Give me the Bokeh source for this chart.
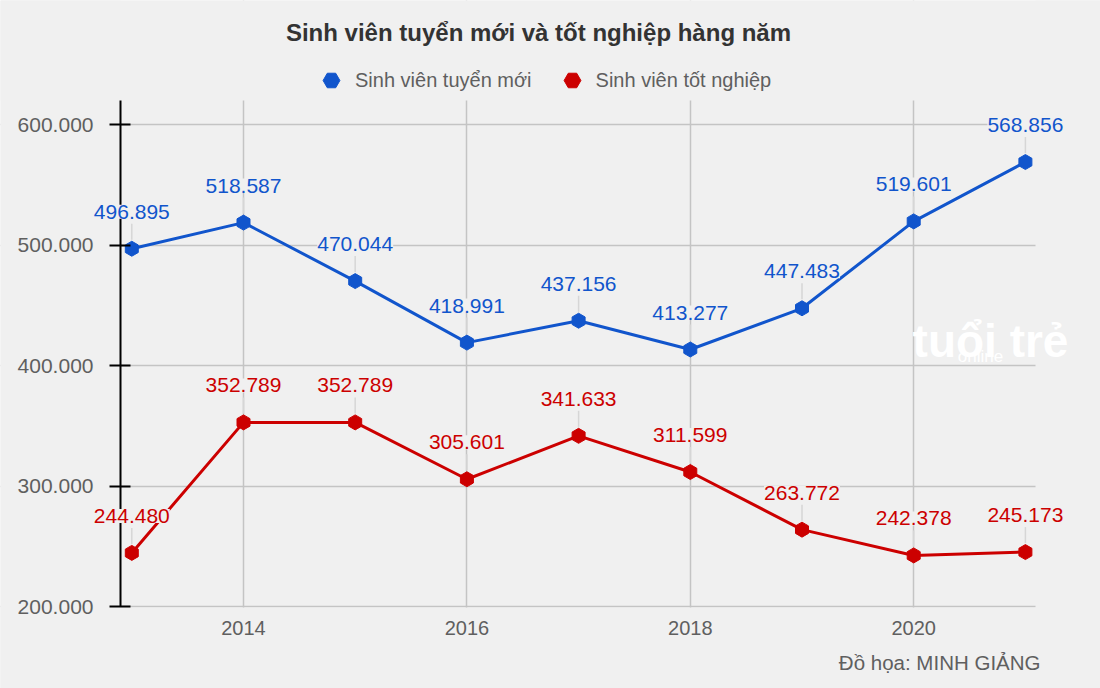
import math
from bokeh.plotting import figure
from bokeh.models import (ColumnDataSource, Range1d, FixedTicker, LabelSet, Legend,
                          LegendItem, Label, BoxAnnotation)
from bokeh.core.properties import value
from bokeh.embed import file_html
from bokeh.resources import INLINE

# ---- data ----
years = [2013, 2014, 2015, 2016, 2017, 2018, 2019, 2020, 2021]
new_students = [496895, 518587, 470044, 418991, 437156, 413277, 447483, 519601, 568856]
graduates = [244480, 352789, 352789, 305601, 341633, 311599, 263772, 242378, 245173]
series_names = ["Sinh viên tuyển mới", "Sinh viên tốt nghiệp"]
y_ticks = [200000, 300000, 400000, 500000, 600000]
y_tick_labels = ["200.000", "300.000", "400.000", "500.000", "600.000"]
x_ticks = [2014, 2016, 2018, 2020]
title_text = "Sinh viên tuyển mới và tốt nghiệp hàng năm"
credit_text = "Đồ họa: MINH GIẢNG"

# ---- style / layout ----
BG = "#f0f0f0"
BLUE = "#1155cc"
RED = "#cc0000"
FONT = "Liberation Sans"
GRID = "#c4c4c4"
TXT = "#5f5f5f"
W, H = 1100, 688

PX_PER_YEAR = 111.7
X_LEFT = 2013 - 131.3 / PX_PER_YEAR
k = 100000 / 120.5                     # data units per pixel (y)
Y_TOP = 600000 + 124 * k


def xd(px):
    return X_LEFT + px / PX_PER_YEAR


def yd(py):
    return Y_TOP - py * k


X_RIGHT = xd(W)
Y_BOT = yd(H)
FRAME_L, FRAME_R = xd(120), xd(1035)
FRAME_T, FRAME_B = yd(100), y_ticks[0]

p = figure(width=W, height=H,
           x_range=Range1d(X_LEFT, X_RIGHT), y_range=Range1d(Y_BOT, Y_TOP),
           output_backend="svg", toolbar_location=None, title=None,
           min_border=0,
           background_fill_color=BG, border_fill_color=BG, outline_line_color=None)

# axes (drawn at fixed locations inside the canvas)
p.yaxis.fixed_location = FRAME_L
p.yaxis.bounds = (FRAME_B, FRAME_T)
p.yaxis.ticker = FixedTicker(ticks=y_ticks)
p.yaxis.major_label_overrides = dict(zip(y_ticks, y_tick_labels))
p.yaxis.major_label_text_font = FONT
p.yaxis.major_label_text_font_size = "21px"
p.yaxis.major_label_text_color = TXT
p.yaxis.axis_line_color = "black"
p.yaxis.axis_line_width = 2
p.yaxis.major_tick_line_color = "black"
p.yaxis.major_tick_line_width = 2
p.yaxis.major_tick_in = 10
p.yaxis.major_tick_out = 11
p.yaxis.minor_tick_line_color = None
p.yaxis.major_label_standoff = 16

p.xaxis.fixed_location = FRAME_B
p.xaxis.ticker = FixedTicker(ticks=x_ticks)
p.xaxis.major_label_text_font = FONT
p.xaxis.major_label_text_font_size = "20px"
p.xaxis.major_label_text_color = TXT
p.xaxis.axis_line_color = None
p.xaxis.major_tick_line_color = None
p.xaxis.minor_tick_line_color = None
p.xaxis.major_tick_out = 0
p.xaxis.major_tick_in = 0
p.xaxis.major_label_standoff = 14

p.ygrid.ticker = FixedTicker(ticks=y_ticks)
p.ygrid.grid_line_color = GRID
p.ygrid.grid_line_width = 1.5
p.xgrid.ticker = FixedTicker(ticks=x_ticks)
p.xgrid.grid_line_color = GRID
p.xgrid.grid_line_width = 1.5

# masks that limit the grid to the plotting area
for l, r, b, t in [(X_LEFT, FRAME_L, Y_BOT, Y_TOP),
                   (FRAME_R, X_RIGHT, Y_BOT, Y_TOP),
                   (X_LEFT, X_RIGHT, FRAME_T, Y_TOP),
                   (X_LEFT, X_RIGHT, Y_BOT, FRAME_B - 1 * k)]:
    p.add_layout(BoxAnnotation(left=l, right=r, bottom=b, top=t, fill_color=BG, fill_alpha=1,
                               line_color=None, level="underlay"))

# watermark
p.add_layout(Label(x=xd(990), y=yd(340), text="tuổi trẻ", text_font=FONT, text_font_size="46px",
                   text_font_style="bold", text_color="white", text_align="center",
                   text_baseline="middle"))
p.add_layout(Label(x=xd(980), y=yd(356), text="online", text_font=FONT, text_font_size="17px",
                   text_color="white", text_align="center", text_baseline="middle"))

legend_items = []
for name, vals, col in zip(series_names, [new_students, graduates], [BLUE, RED]):
    src = ColumnDataSource(dict(
        x=years, y=vals,
        lbl=[f"{v:,}".replace(",", ".") for v in vals],
        ly0=[v + 9 * k for v in vals],
        ly1=[v + 25 * k for v in vals],
    ))
    p.segment(x0="x", y0="ly0", x1="x", y1="ly1", source=src, line_color="#d6d6d6", line_width=1.5)
    p.line("x", "y", source=src, line_color=col, line_width=3)
    r = p.scatter("x", "y", source=src, marker="hex", size=15, angle=math.pi / 6,
                  fill_color=col, line_color=col)
    legend_items.append(LegendItem(label=name, renderers=[r]))
    p.add_layout(LabelSet(x="x", y="y", text="lbl", source=src, y_offset=37,
                          text_align="center", text_baseline="middle",
                          text_font=value(FONT), text_font_size=value("21px"),
                          text_color=col, background_fill_color=BG))

GL = 42  # legend glyph box
legend = Legend(items=legend_items, orientation="horizontal", location=(331 - GL // 2, H - 80 - GL // 2),
                label_text_font=FONT, label_text_font_size="20px", label_text_color=TXT,
                background_fill_alpha=0, border_line_color=None, spacing=19,
                label_standoff=3, glyph_width=GL, glyph_height=GL, padding=0, margin=0)
p.add_layout(legend, "center")

# title and credit
p.add_layout(Label(x=xd(538), y=yd(32), text=title_text, text_font=FONT, text_font_size="24px",
                   text_font_style="bold", text_color="#333333", text_align="center",
                   text_baseline="middle"))
p.add_layout(Label(x=xd(1040), y=yd(662), text=credit_text, text_font=FONT, text_font_size="20.5px",
                   text_color=TXT, text_align="right", text_baseline="middle"))

open("out.html", "w").write(file_html(p, INLINE))
